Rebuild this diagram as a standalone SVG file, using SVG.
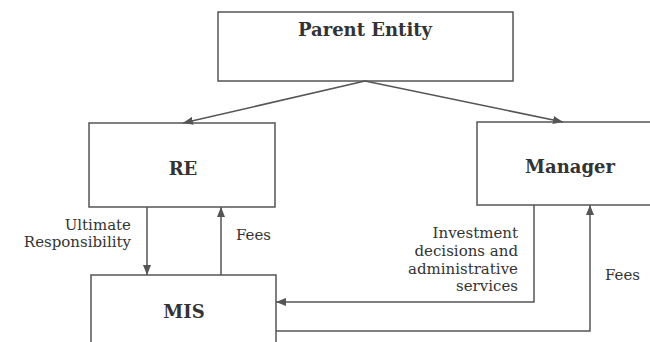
<svg xmlns="http://www.w3.org/2000/svg" width="650" height="342" viewBox="0 0 650 342">
<style>
.box{fill:#fff;stroke:#555;stroke-width:1.5}
.title{font-family:"DejaVu Serif",serif;font-weight:bold;font-size:18px;fill:#333;text-anchor:middle}
.lbl{font-family:"DejaVu Serif",serif;font-size:15px;fill:#333}
.con{fill:none;stroke:#555;stroke-width:1.5}
</style>
<defs>
<marker id="ah" viewBox="0 0 10 8" refX="10" refY="4" markerWidth="10" markerHeight="8" markerUnits="userSpaceOnUse" orient="auto">
<path d="M0,0 L10,4 L0,8 Z" fill="#555"/>
</marker>
</defs>
<rect width="650" height="342" fill="#fff"/>
<g id="parent"><rect class="box" x="218" y="12" width="295" height="69"/><text class="title" x="365" y="36">Parent Entity</text></g>
<g id="re"><rect class="box" x="89" y="123" width="186" height="84"/><text class="title" x="183" y="175">RE</text></g>
<g id="manager"><rect class="box" x="477" y="122" width="190" height="83"/><text class="title" x="570" y="173">Manager</text></g>
<g id="mis"><rect class="box" x="91" y="275" width="185" height="80"/><text class="title" x="184" y="318">MIS</text></g>
<g id="connectors">
<path class="con" d="M365,81 L183,123" marker-end="url(#ah)"/>
<path class="con" d="M365,81 L563,122" marker-end="url(#ah)"/>
<path class="con" d="M147,207 L147,275" marker-end="url(#ah)"/>
<path class="con" d="M221,275 L221,207" marker-end="url(#ah)"/>
<path class="con" d="M534,205 L534,302 L276,302" marker-end="url(#ah)"/>
<path class="con" d="M276,331 L590,331 L590,205" marker-end="url(#ah)"/>
</g>
<g id="labels">
<text class="lbl" text-anchor="end" x="131" y="230">Ultimate</text>
<text class="lbl" text-anchor="end" x="131" y="247">Responsibility</text>
<text class="lbl" x="236" y="240">Fees</text>
<text class="lbl" text-anchor="end" x="518" y="238">Investment</text>
<text class="lbl" text-anchor="end" x="518" y="256">decisions and</text>
<text class="lbl" text-anchor="end" x="518" y="274">administrative</text>
<text class="lbl" text-anchor="end" x="518" y="291">services</text>
<text class="lbl" x="605" y="280">Fees</text>
</g>
</svg>
